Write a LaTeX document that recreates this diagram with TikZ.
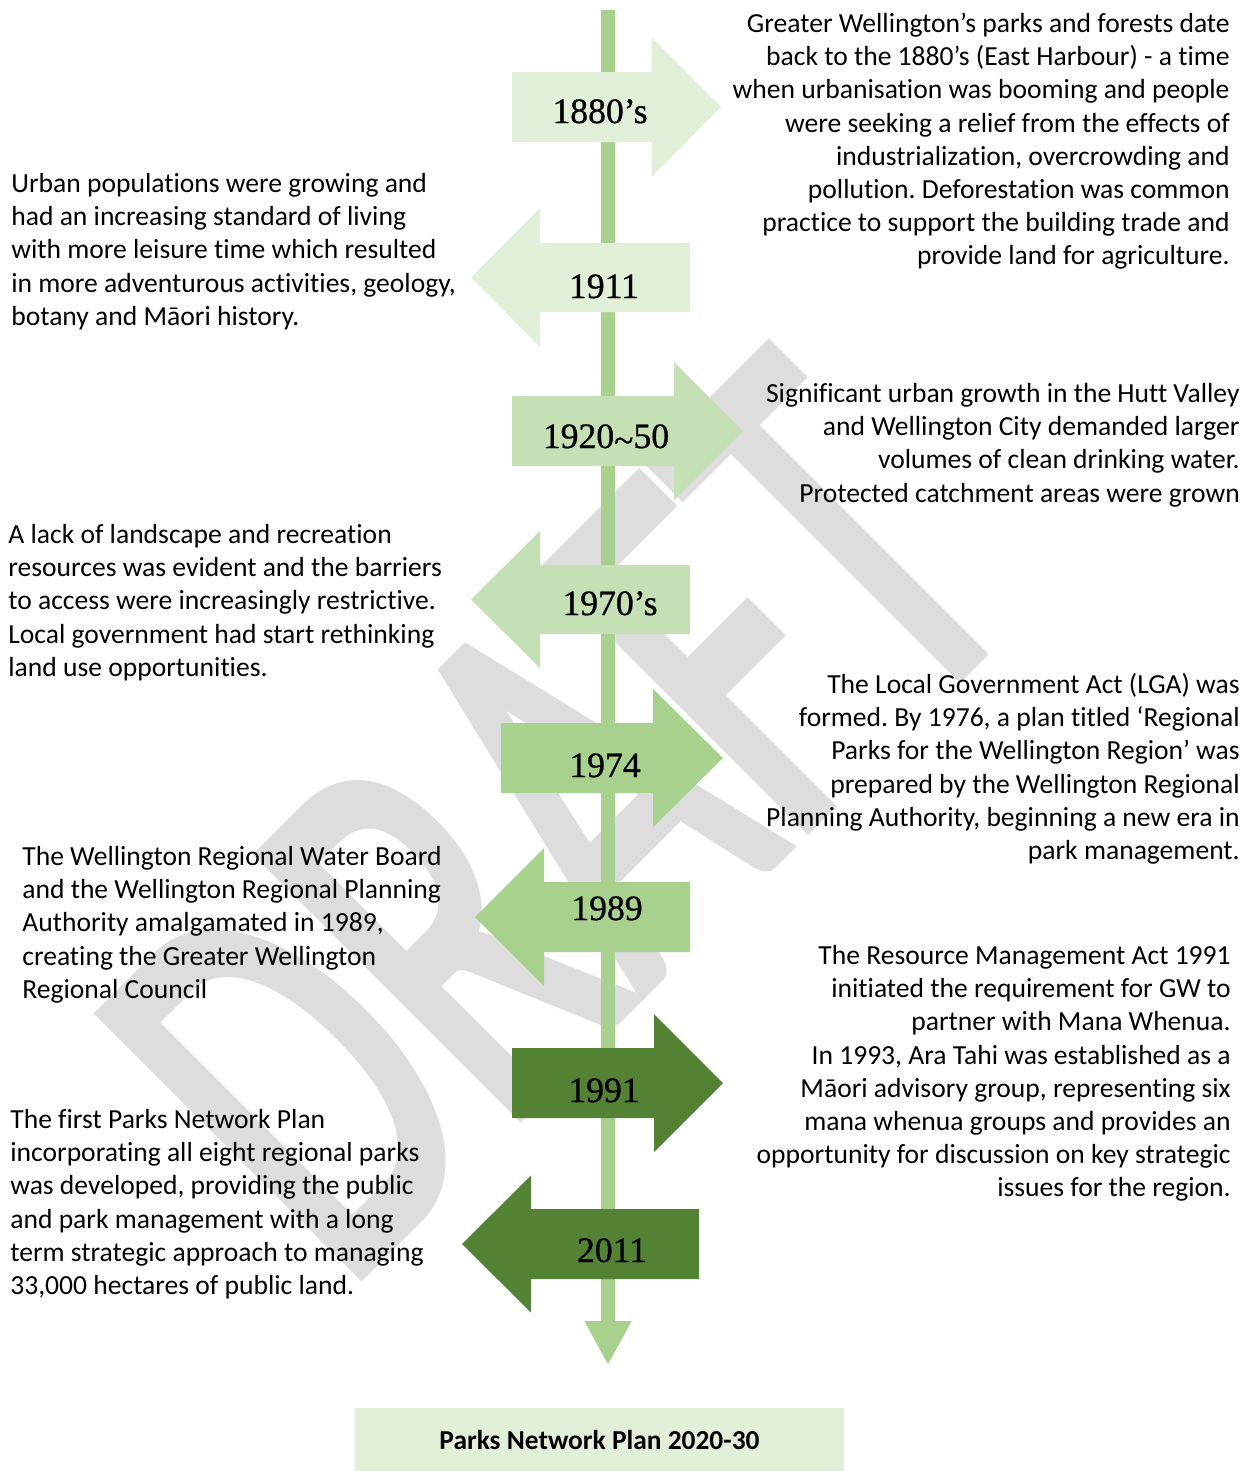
\documentclass[tikz,border=0pt]{standalone}
\usepackage{graphicx}
\usepackage{fontspec}
\setmainfont[Ligatures=NoCommon]{Carlito}
\newfontfamily\yearfont[FakeBold=0.8]{Liberation Serif}
\newfontfamily\draftfont[FakeBold=2.2]{Carlito}
\usepackage{tikz}
\usetikzlibrary{arrows.meta}
\definecolor{palegreen}{RGB}{226,239,217}
\definecolor{softgreen}{RGB}{197,224,180}
\definecolor{midgreen}{RGB}{169,209,142}
\definecolor{darkgreen}{RGB}{84,130,53}
\definecolor{draftgray}{RGB}{221,221,221}
% block arrow: colour, tail x, head base x, tip x, mid y, half body, half head
\newcommand{\blockarrow}[7]{%
  \fill[#1] (#2,#5-#6) -- (#3,#5-#6) -- (#3,#5-#7) -- (#4,#5)
    -- (#3,#5+#7) -- (#3,#5+#6) -- (#2,#5+#6) -- cycle;}
\frenchspacing

\begin{document}
\begin{tikzpicture}[
  x=0.02cm, y=-0.02cm,
  note/.style={inner sep=0pt, font=\fontsize{15.7}{18.9}\selectfont, yshift=13.2pt},
  rnote/.style={note, anchor=north east, align=right},
  lnote/.style={note, anchor=north west, align=left},
  yearlbl/.style={anchor=base, inner sep=0pt, font=\yearfont\fontsize{20.3}{22}\selectfont},
  planbox/.style={fill=palegreen, minimum width=278.4pt, minimum height=35.7pt, inner sep=0pt,
    font=\fontsize{15.6}{18}\selectfont\bfseries},
  timeline/.style={midgreen, line width=7.9pt, -{Triangle[length=25pt,width=25pt]}},
  wmark/.style={rotate=45, text=draftgray, inner sep=0pt, font=\draftfont\fontsize{207}{207}\selectfont}
]
\useasboundingbox (0,0) rectangle (1255,1471);

% watermark
\node[wmark] (draft) at (558,817) {\scalebox{1}[1.57]{DRAFT}};

% time line
\coordinate (top) at (608,10);
\coordinate (bottom) at (608,1365);
\draw[timeline] (top) -- (bottom);

% arrows
\blockarrow{palegreen}{512}{652}{721}{107}{35}{69.5}
\blockarrow{palegreen}{690}{540}{471}{277.5}{34.5}{69.5}
\blockarrow{softgreen}{512}{674}{743}{431}{35}{69}
\blockarrow{softgreen}{690}{540}{471}{599.5}{34.5}{68.5}
\blockarrow{midgreen}{501}{653}{723}{758}{35}{69}
\blockarrow{midgreen}{690}{544}{475}{917}{35}{69}
\blockarrow{darkgreen}{512}{654}{723}{1083}{35}{69}
\blockarrow{darkgreen}{699}{531}{462}{1244}{35}{68.5}

\node[yearlbl] (y1880) at (600,123) {1880’s};
\node[yearlbl] (y1911) at (604,298) {1911};
\node[yearlbl] (y1920) at (606,448) {1920\raisebox{-0.12em}{\textasciitilde}50};
\node[yearlbl] (y1970) at (610,615) {1970’s};
\node[yearlbl] (y1974) at (605,777) {1974};
\node[yearlbl] (y1989) at (607,920) {1989};
\node[yearlbl] (y1991) at (604,1102) {1991};
\node[yearlbl] (y2011) at (612,1262) {2011};

% descriptions
\node[rnote] (d1880) at (1230,32) {\strut Greater Wellington’s parks and forests date\\
  back to the 1880’s (East Harbour) - a time\\
  when urbanisation was booming and people\\
  were seeking a relief from the effects of\\
  industrialization, overcrowding and\\
  pollution. Deforestation was common\\
  practice to support the building trade and\\
  provide land for agriculture.};
\node[lnote] (d1911) at (11,192) {\strut Urban populations were growing and\\
  had an increasing standard of living\\
  with more leisure time which resulted\\
  in more adventurous activities, geology,\\
  botany and Māori history.};
\node[rnote] (d1920) at (1240,402) {\strut Significant urban growth in the Hutt Valley\\
  and Wellington City demanded larger\\
  volumes of clean drinking water.\\
  Protected catchment areas were grown};
\node[lnote] (d1970) at (8,543) {\strut A lack of landscape and recreation\\
  resources was evident and the barriers\\
  to access were increasingly restrictive.\\
  Local government had start rethinking\\
  land use opportunities.};
\node[rnote] (d1974) at (1240,693) {\strut The Local Government Act (LGA) was\\
  formed. By 1976, a plan titled ‘Regional\\
  Parks for the Wellington Region’ was\\
  prepared by the Wellington Regional\\
  Planning Authority, beginning a new era in\\
  park management.};
\node[lnote] (d1989) at (22,865) {\strut The Wellington Regional Water Board\\
  and the Wellington Regional Planning\\
  Authority amalgamated in 1989,\\
  creating the Greater Wellington\\
  Regional Council};
\node[rnote] (d1991) at (1231,964) {\strut The Resource Management Act 1991\\
  initiated the requirement for GW to\\
  partner with Mana Whenua.\\
  In 1993, Ara Tahi was established as a\\
  Māori advisory group, representing six\\
  mana whenua groups and provides an\\
  opportunity for discussion on key strategic\\
  issues for the region.};
\node[lnote] (d2011) at (10,1128) {\strut The first Parks Network Plan\\
  incorporating all eight regional parks\\
  was developed, providing the public\\
  and park management with a long\\
  term strategic approach to managing\\
  33,000 hectares of public land.};

\node[planbox] (plan) at (599.5,1439.5) {Parks Network Plan 2020-30};
\end{tikzpicture}
\end{document}
